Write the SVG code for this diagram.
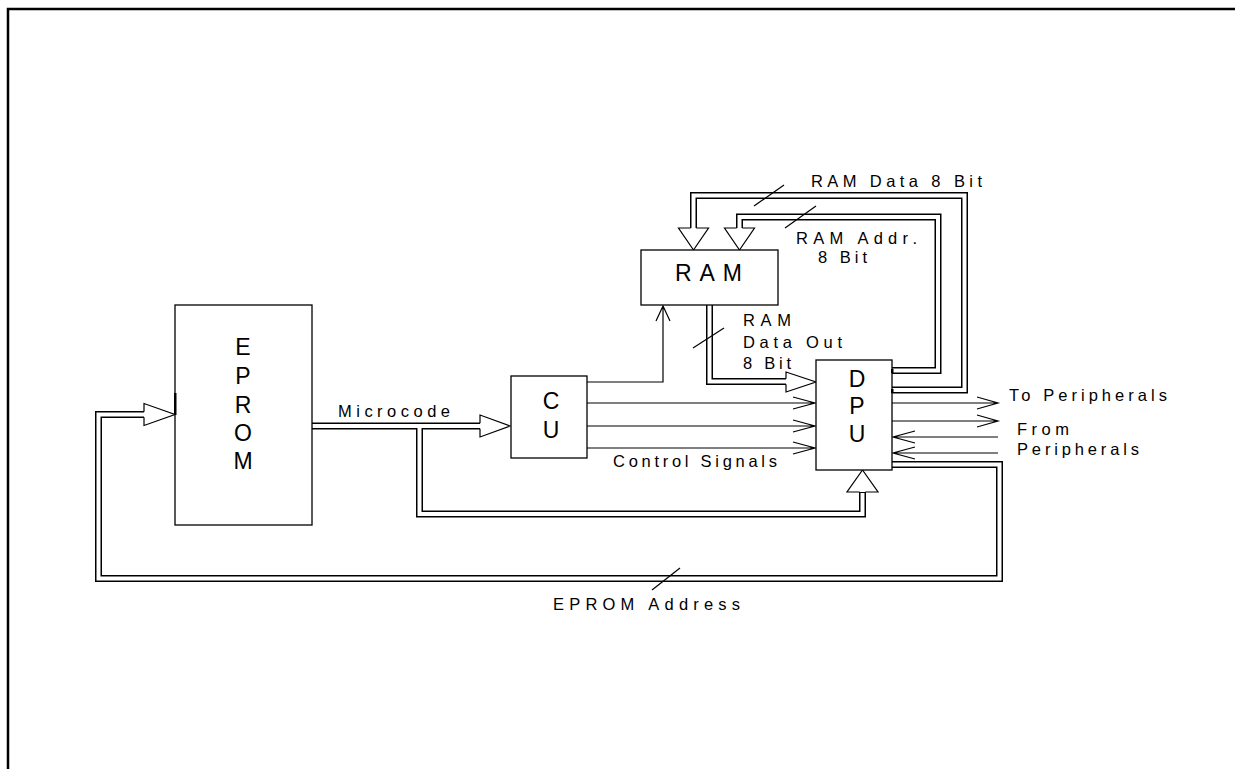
<svg xmlns="http://www.w3.org/2000/svg" width="1235" height="769" viewBox="0 0 1235 769">
<style>
.box{fill:#fff;stroke:#000;stroke-width:1.3}
.frame{fill:none;stroke:#000;stroke-width:2.5}
.bb{fill:none;stroke:#000;stroke-width:7;stroke-linejoin:miter}
.bw{fill:none;stroke:#fff;stroke-width:4;stroke-linejoin:miter}
.ah{fill:#fff;stroke:#000;stroke-width:1.2;stroke-linejoin:miter}
.ln{fill:none;stroke:#000;stroke-width:1.2}
.big{font-family:"Liberation Sans",Arial,sans-serif;font-size:23px;fill:#000;text-anchor:middle}
.lbl{font-family:"Liberation Sans",Arial,sans-serif;font-size:16.5px;fill:#000}
</style>
<rect class="frame" x="8" y="9" width="1250" height="780"/>

<g id="connectors">
  <path class="bb" d="M312,426 H480"/>
  <path class="bb" d="M419.5,426 V514 H862.5 V492"/>
  <path class="bb" d="M709.5,305 V381.5 H786"/>
  <path class="bb" d="M892,390 H964.5 V195.5 H693.5 V228"/>
  <path class="bb" d="M892,370.5 H938 V217 H739.5 V228"/>
  <path class="bb" d="M892,464.5 H999.5 V578.5 H98.5 V414.5 H144"/>
  <path class="bw" d="M311,426 H481"/>
  <path class="bw" d="M419.5,426 V514 H862.5 V493"/>
  <path class="bw" d="M709.5,304 V381.5 H787"/>
  <path class="bw" d="M891,390 H964.5 V195.5 H693.5 V229"/>
  <path class="bw" d="M891,370.5 H938 V217 H739.5 V229"/>
  <path class="bw" d="M891,464.5 H999.5 V578.5 H98.5 V414.5 H145"/>
  <path class="ah" d="M144,411.7 V403.5 L175,414.5 L144,425.5 V417.3"/>
  <path class="ah" d="M480,423.2 V415 L510,426 L480,437 V428.8"/>
  <path class="ah" d="M690.7,228 H678.5 L693.5,250 L708.5,228 H696.3"/>
  <path class="ah" d="M736.7,228 H724.5 L739.5,250 L754.5,228 H742.3"/>
  <path class="ah" d="M786,378.7 V372 L816,382 L786,392 V384.3"/>
  <path class="ah" d="M859.7,492 H847 L862.5,470 L878,492 H865.3"/>
  <path class="ln" d="M587,382 H663 V306 M656,321 L663,306 L670,321"/>
  <path class="ln" d="M587,403 H815 M793,397 L815,403 L793,409"/>
  <path class="ln" d="M587,426 H815 M793,420 L815,426 L793,432"/>
  <path class="ln" d="M587,448 H815 M793,442 L815,448 L793,454"/>
  <path class="ln" d="M892,403 H998 M977,397 L998,403 L977,409"/>
  <path class="ln" d="M892,421 H998 M977,415 L998,421 L977,427"/>
  <path class="ln" d="M998,437 H893 M915,431 L893,437 L915,443"/>
  <path class="ln" d="M998,453 H893 M915,447 L893,453 L915,459"/>
  <path class="ln" d="M754,206 L784,185"/>
  <path class="ln" d="M785,228 L816,206"/>
  <path class="ln" d="M693,348 L724,328"/>
  <path class="ln" d="M652,590 L680,568"/>
</g>

<g id="eprom">
  <rect class="box" x="175" y="305" width="137" height="220"/>
  <rect x="174" y="393" width="2.5" height="22" fill="#000"/>
  <text class="big" x="243" y="355">E</text>
  <text class="big" x="243" y="384">P</text>
  <text class="big" x="243" y="413">R</text>
  <text class="big" x="243" y="441">O</text>
  <text class="big" x="243" y="469">M</text>
</g>

<g id="cu">
  <rect class="box" x="511" y="376" width="76" height="82"/>
  <text class="big" x="551" y="409">C</text>
  <text class="big" x="551" y="438">U</text>
</g>

<g id="ram">
  <rect class="box" x="641" y="250" width="137" height="55"/>
  <text class="big" x="675" y="281" textLength="67" lengthAdjust="spacing" style="text-anchor:start">RAM</text>
</g>

<g id="dpu">
  <rect class="box" x="816" y="360" width="76" height="110"/>
  <rect x="891" y="369" width="2.5" height="4" fill="#000"/>
  <rect x="891" y="389" width="2.5" height="4" fill="#000"/>
  <text class="big" x="857" y="387">D</text>
  <text class="big" x="857" y="414">P</text>
  <text class="big" x="857" y="442">U</text>
</g>

<g id="labels">
  <text class="lbl" x="811" y="187" textLength="171" lengthAdjust="spacing">RAM Data 8 Bit</text>
  <text class="lbl" x="796" y="244" textLength="121" lengthAdjust="spacing">RAM Addr.</text>
  <text class="lbl" x="818" y="263" textLength="49" lengthAdjust="spacing">8 Bit</text>
  <text class="lbl" x="743" y="326" textLength="48" lengthAdjust="spacing">RAM</text>
  <text class="lbl" x="743" y="348" textLength="99" lengthAdjust="spacing">Data Out</text>
  <text class="lbl" x="743" y="369" textLength="48" lengthAdjust="spacing">8 Bit</text>
  <text class="lbl" x="338" y="417" textLength="112" lengthAdjust="spacing">Microcode</text>
  <text class="lbl" x="613" y="467" textLength="164" lengthAdjust="spacing">Control Signals</text>
  <text class="lbl" x="1009" y="401" textLength="158" lengthAdjust="spacing">To Peripherals</text>
  <text class="lbl" x="1017" y="435" textLength="52" lengthAdjust="spacing">From</text>
  <text class="lbl" x="1017" y="455" textLength="122" lengthAdjust="spacing">Peripherals</text>
  <text class="lbl" x="553" y="610" textLength="187" lengthAdjust="spacing">EPROM Address</text>
</g>
</svg>
